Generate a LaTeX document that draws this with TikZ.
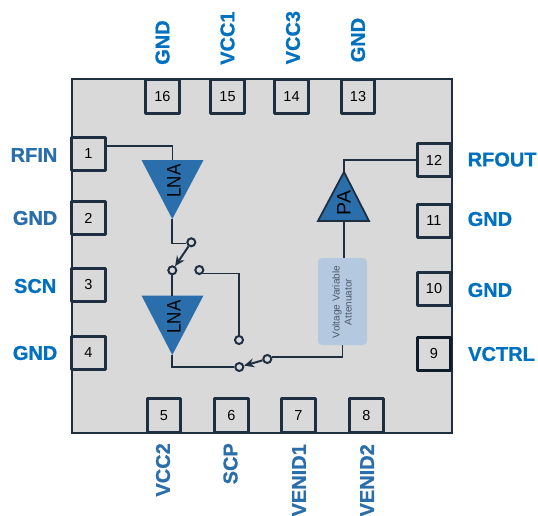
\documentclass[tikz,border=0pt]{standalone}
\usepackage{fontspec}
\setmainfont{Liberation Sans}
\newfontfamily\labfont[UprightFont=* Bold,FakeBold=0.9]{Liberation Sans}
\usetikzlibrary{arrows.meta}
\definecolor{dk}{HTML}{1F2F42}
\definecolor{blk}{HTML}{0F1C2B}
\definecolor{bl}{HTML}{2A6EAB}
\definecolor{br}{HTML}{0070C0}
\definecolor{bg}{HTML}{D9D9D9}
\definecolor{lbl}{HTML}{B4C9DF}
\tikzset{
 x=1pt,y=-1pt,
 pinbox/.style={draw=dk,line width=3pt,line join=round,fill=bg,minimum size=33.5pt,inner sep=0pt,font=\fontsize{14.5}{16}\selectfont,text=black},
 pinlab/.style={font=\fontsize{20}{22}\labfont,text=br,inner sep=0pt},
 pinlabb/.style={pinlab,text=bl},
 wire/.style={draw=dk,line width=1.8pt},
 term/.style={circle,draw=dk,line width=2pt,fill=none,minimum size=8pt,inner sep=0pt},
 sw/.style={draw=dk,line width=2pt,-{Stealth[length=10pt,width=9pt]}},
 amp/.style={fill=bl},
 amptext/.style={font=\fontsize{19.5}{21}\selectfont,rotate=90,text=black,inner sep=0pt}
}
\begin{document}
\begin{tikzpicture}
\useasboundingbox (0,0) rectangle (538,516);
\node[draw=dk,line width=2pt,fill=bg,inner sep=0pt,anchor=north west,minimum width=380pt,minimum height=354pt] (body) at (71,78) {};
% pins
\node[pinbox] (p16) at (162.5,96.5) {16};
\node[pinbox] (p15) at (227.5,96.5) {15};
\node[pinbox] (p14) at (291.5,96.5) {14};
\node[pinbox] (p13) at (358,96.5) {13};
\node[pinbox] (p1) at (88.5,154) {1};
\node[pinbox] (p2) at (88.5,218) {2};
\node[pinbox] (p3) at (88.5,285) {3};
\node[pinbox] (p4) at (88.5,353) {4};
\node[pinbox] (p5) at (164,415.5) {5};
\node[pinbox] (p6) at (231.5,415.5) {6};
\node[pinbox] (p7) at (298.5,415.5) {7};
\node[pinbox] (p8) at (366.5,415.5) {8};
\node[pinbox] (p12) at (434,160) {12};
\node[pinbox] (p11) at (434,221) {11};
\node[pinbox] (p10) at (434,289) {10};
\node[pinbox,draw=blk] (p9) at (434,354) {9};
% labels
\node[pinlab,rotate=90,anchor=west] (l16) at (162.5,65) {GND};
\node[pinlab,rotate=90,anchor=west] (l15) at (227.5,65) {VCC1};
\node[pinlab,rotate=90,anchor=west] (l14) at (293,64.5) {VCC3};
\node[pinlab,rotate=90,anchor=west] (l13) at (358,62.5) {GND};
\node[pinlabb,anchor=east] (l1) at (57.5,155) {RFIN};
\node[pinlabb,anchor=east] (l2) at (57.5,218) {GND};
\node[pinlab,anchor=east] (l3) at (56.5,286) {SCN};
\node[pinlab,anchor=east] (l4) at (57.5,353) {GND};
\node[pinlabb,rotate=90,anchor=east] (l5) at (163,443) {VCC2};
\node[pinlabb,rotate=90,anchor=east] (l6) at (230.5,443) {SCP};
\node[pinlabb,rotate=90,anchor=east] (l7) at (299,444) {VENID1};
\node[pinlabb,rotate=90,anchor=east] (l8) at (367,444) {VENID2};
\node[pinlab,anchor=west] (l12) at (467.5,159.5) {RFOUT};
\node[pinlab,anchor=west] (l11) at (467.5,219) {GND};
\node[pinlab,anchor=west] (l10) at (467.5,290) {GND};
\node[pinlab,anchor=west] (l9) at (468,354) {VCTRL};
% amplifiers
\coordinate (a1in) at (172.3,160);
\coordinate (a1out) at (172.3,219);
\coordinate (a2in) at (172.3,296);
\coordinate (a2out) at (172.3,355);
\coordinate (pain) at (344,221);
\coordinate (paout) at (344,172);
\fill[amp] (141.5,160) -- (203.5,160) -- (a1out) -- cycle;
\fill[amp] (141.5,295.5) -- (203.5,295.5) -- (a2out) -- cycle;
\draw[amp,draw=dk,line width=1.8pt,line join=miter] (paout) -- (369,221) -- (318,221) -- cycle;
\node[amptext] (t1) at (174,181) {\scalebox{.87}[1]{LNA}};
\node[amptext] (t2) at (174,317) {\scalebox{.87}[1]{LNA}};
\node[amptext] (t3) at (344,203) {PA};
\node[fill=lbl,rounded corners=4pt,minimum width=49pt,minimum height=87pt,inner sep=0pt] (vva) at (342.5,301.5) {};
\node[rotate=90,font=\fontsize{10}{12}\selectfont,align=center,text=dk!80,inner sep=0pt] (vvat) at (342,302) {Voltage Variable\\Attenuator};
% terminals
\node[term] (s1) at (191.3,242.3) {};
\node[term] (s2) at (172.3,270.3) {};
\node[term] (s3) at (199.3,270) {};
\node[term] (s4) at (239,340) {};
\node[term] (s5) at (239.3,367) {};
\node[term] (s6) at (267.3,359) {};
% wires
\draw[wire,line width=1.5pt] (p1.east |- 0,146) -- (a1in |- 0,146) -- (a1in);
\draw[wire] (a1out) |- (s1.195);
\draw[wire] (s2) -- (a2in);
\draw[sw] (s1) -- (s2);
\draw[wire] (s3.south east) -- (s3.south east -| s4) -- (s4.north);
\draw[wire] (a2out) |- (s5.west);
\draw[sw] (s6) -- (s5);
\draw[wire] (s6.20) -| (vva.south);
\draw[wire] (pain) -- (pain |- vva.north);
\draw[wire] (paout) |- (p12.west);
\end{tikzpicture}
\end{document}
